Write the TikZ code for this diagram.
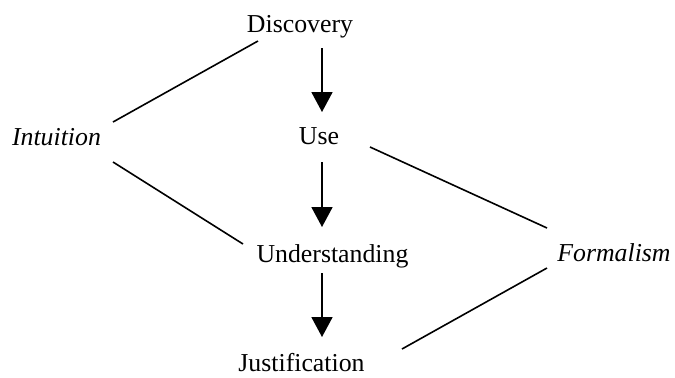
\documentclass[tikz,border=0pt]{standalone}
\usepackage{fontspec}
\setmainfont{Liberation Serif}
\usetikzlibrary{arrows.meta}
\begin{document}
\begin{tikzpicture}[x=0.5pt,y=-0.5pt,
  lbl/.style={inner sep=0pt,anchor=base,font=\fontsize{12.9}{15}\selectfont},
  ilbl/.style={lbl,font=\fontsize{12.9}{15}\selectfont\itshape},
  arr/.style={line width=0.9pt,-{Triangle[width=10.5pt,length=10pt]}},
  conn/.style={line width=0.8pt}]
\useasboundingbox (0,0) rectangle (675,377);
\node[lbl] (disc) at (300,32) {Discovery};
\node[lbl] (use) at (319,144) {Use};
\node[ilbl] (int) at (56.5,145) {Intuition};
\node[lbl] (und) at (332.5,262) {Understanding};
\node[ilbl] (form) at (614,261) {Formalism};
\node[lbl] (just) at (301.5,371) {Justification};
% arrow end points
\coordinate (a1s) at (322,48);  \coordinate (a1e) at (322,112);
\coordinate (a2s) at (322,162); \coordinate (a2e) at (322,227);
\coordinate (a3s) at (322,273); \coordinate (a3e) at (322,337);
\draw[arr] (a1s) -- (a1e);
\draw[arr] (a2s) -- (a2e);
\draw[arr] (a3s) -- (a3e);
% connector end points
\coordinate (i1) at (113,122); \coordinate (d1) at (258,41);
\coordinate (i2) at (113,162); \coordinate (u1) at (243,244);
\coordinate (s1) at (370,147); \coordinate (f1) at (547,228);
\coordinate (j1) at (402,349); \coordinate (f2) at (547,268);
\draw[conn] (i1) -- (d1);
\draw[conn] (i2) -- (u1);
\draw[conn] (s1) -- (f1);
\draw[conn] (j1) -- (f2);
\end{tikzpicture}
\end{document}
